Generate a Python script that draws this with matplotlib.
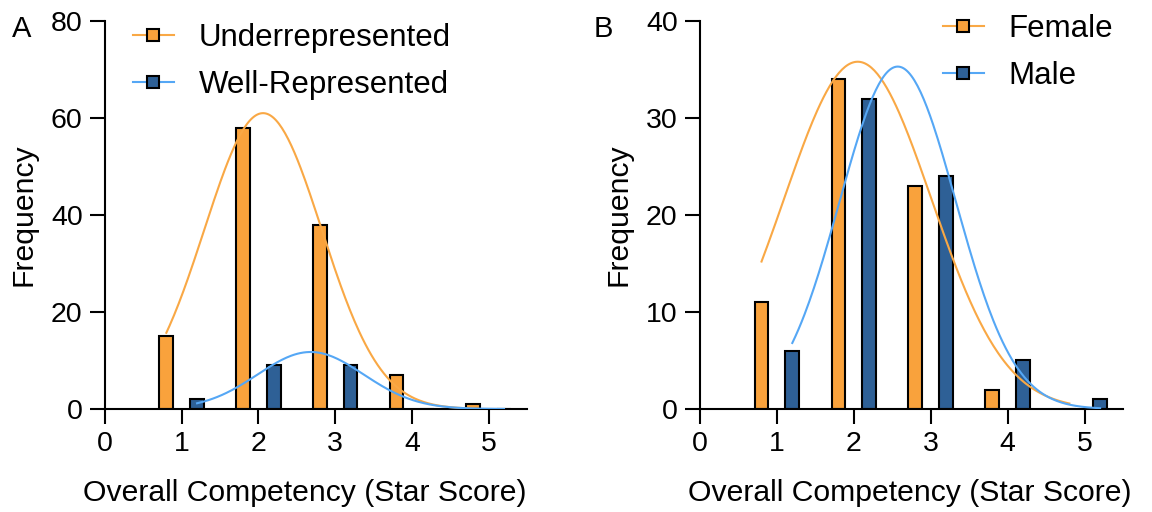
import numpy as np
import matplotlib.pyplot as plt

# star scores and bar counts
scores = [1, 2, 3, 4, 5]

under = [15, 58, 38, 7, 1]
well = [2, 9, 9, 0, 0]
female = [11, 34, 23, 2, 0]
male = [6, 32, 24, 5, 1]

# gaussian fit parameters: (amplitude, mean, sd)
under_fit = (61.0, 2.06, 0.765)
well_fit = (11.75, 2.68, 0.69)
female_fit = (35.8, 2.05, 0.955)
male_fit = (35.3, 2.57, 0.755)

orange = "#F9A23C"
blue_bar = "#2E6096"
orange_line = "#F9A845"
blue_line = "#55A7F5"

font = "Liberation Sans"


def gauss(x, p):
    a, m, s = p
    return a * np.exp(-(x - m) ** 2 / (2 * s * s))


def panel(ax, c1, c2, f1, f2, names, ymax, ystep, anchor, xlab_x):
    x = np.array(scores, dtype=float)
    w = 0.18
    ax.bar(x - 0.2, c1, width=w, color=orange, edgecolor="black", linewidth=1.5, zorder=2)
    ax.bar(x + 0.2, c2, width=w, color=blue_bar, edgecolor="black", linewidth=1.5, zorder=2)
    xs1 = np.linspace(0.8, 4.8, 200)
    xs2 = np.linspace(1.2, 5.2, 200)
    ax.plot(xs1, gauss(xs1, f1), color=orange_line, lw=1.5, zorder=3)
    ax.plot(xs2, gauss(xs2, f2), color=blue_line, lw=1.5, zorder=3)

    # legend proxies
    h1, = ax.plot([], [], color=orange_line, lw=1.5, marker="s", ms=9,
                  markerfacecolor=orange, markeredgecolor="black", mew=1.5)
    h2, = ax.plot([], [], color=blue_line, lw=1.5, marker="s", ms=9,
                  markerfacecolor=blue_bar, markeredgecolor="black", mew=1.5)
    ax.legend([h1, h2], names, loc="upper left", bbox_to_anchor=anchor,
              bbox_transform=fig.transFigure, frameon=False,
              borderpad=0, borderaxespad=0, handlelength=1.3, handletextpad=0.8,
              labelspacing=0.55, prop={"family": font, "size": 22.5})

    ax.set_xlim(0, 5.5)
    ax.set_ylim(0, ymax)
    ax.set_xticks([0, 1, 2, 3, 4, 5])
    ax.set_yticks(np.arange(0, ymax + 1, ystep))
    for s in ["top", "right"]:
        ax.spines[s].set_visible(False)
    for s in ["left", "bottom"]:
        ax.spines[s].set_linewidth(1.5)
    ax.tick_params(width=1.5, length=11, labelsize=20.5, pad=5)
    for lab in ax.get_xticklabels() + ax.get_yticklabels():
        lab.set_family(font)
    ax.set_xlabel("Overall Competency (Star Score)", family=font, fontsize=21.7)
    ax.xaxis.set_label_coords(xlab_x, -0.18)
    ax.xaxis.label.set_va("top")
    ax.set_ylabel("Frequency", family=font, fontsize=21.7, labelpad=10)


fig = plt.figure(figsize=(11.52, 5.12), dpi=100)
axA = fig.add_axes([0.0911, 0.2012, 0.3664, 0.7578])
axB = fig.add_axes([0.6076, 0.2012, 0.3674, 0.7578])

panel(axA, under, well, under_fit, well_fit, ["Underrepresented", "Well-Represented"],
      80, 20, (133 / 1152, 0.955), 0.474)
panel(axB, female, male, female_fit, male_fit, ["Female", "Male"],
      40, 10, (943 / 1152, 0.973), 0.495)

fig.text(12 / 1152, 1 - 37 / 512, "A", family=font, fontsize=21)
fig.text(594 / 1152, 1 - 37 / 512, "B", family=font, fontsize=21)

fig.savefig("out.png", dpi=100)
